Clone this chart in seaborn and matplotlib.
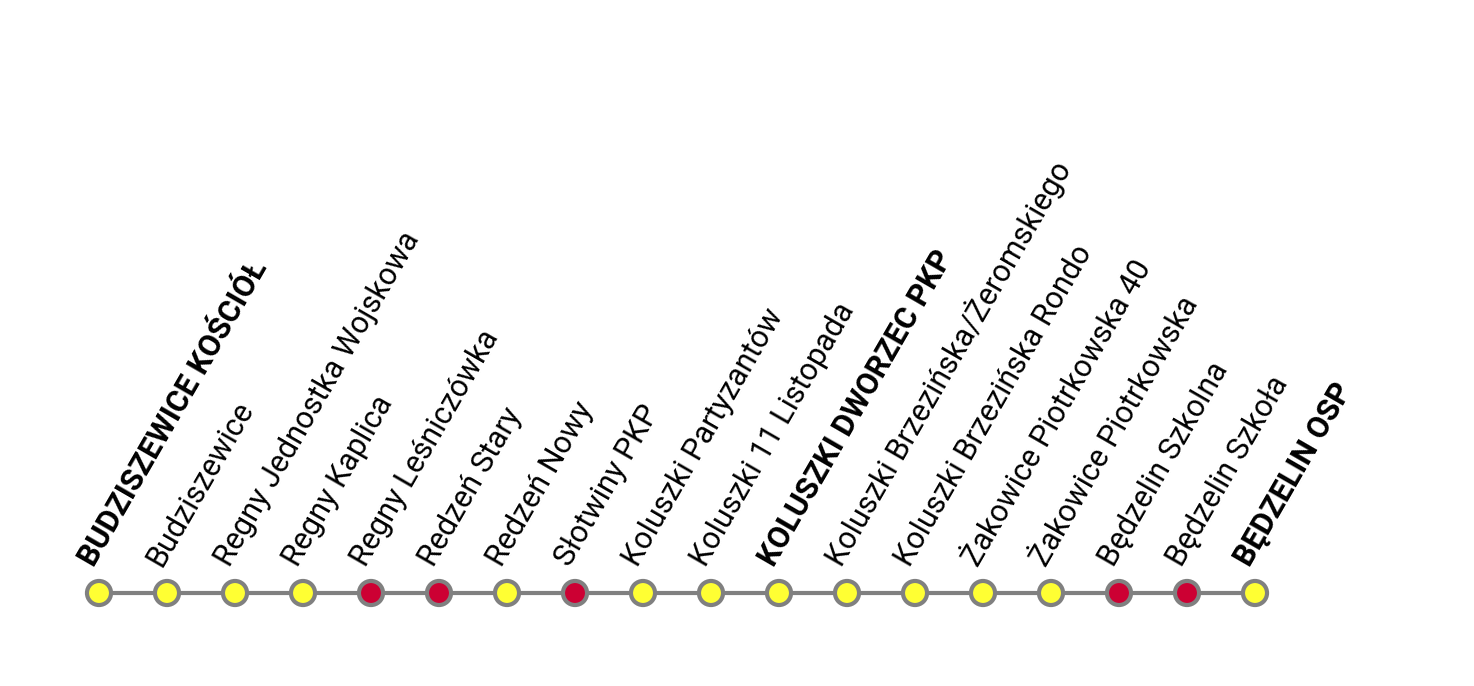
import matplotlib.pyplot as plt
import seaborn as sns
import pandas as pd

stops = ["BUDZISZEWICE KOŚCIÓŁ", "Budziszewice", "Regny Jednostka Wojskowa", "Regny Kaplica",
         "Regny Leśniczówka", "Redzeń Stary", "Redzeń Nowy", "Słotwiny PKP",
         "Koluszki Partyzantów", "Koluszki 11 Listopada", "KOLUSZKI DWORZEC PKP",
         "Koluszki Brzezińska/Żeromskiego", "Koluszki Brzezińska Rondo",
         "Żakowice Piotrkowska 40", "Żakowice Piotrkowska", "Będzelin Szkolna",
         "Będzelin Szkoła", "BĘDZELIN OSP"]
kind = ["y", "y", "y", "y", "r", "r", "y", "r", "y", "y", "y", "y", "y", "y", "y", "r", "r", "y"]
major = [0, 10, 17]

df = pd.DataFrame({"pos": range(len(stops)), "y": 0, "kind": kind})

sns.set_style("white")
plt.rcParams['font.family'] = ['Roboto', 'DejaVu Sans']
fig = plt.figure(figsize=(14.74, 6.86), dpi=100)
ax = fig.add_axes([0, 0, 1, 1])
ax.plot(df["pos"], df["y"], color="#808080", lw=3, zorder=1)
sns.scatterplot(data=df, x="pos", y="y", hue="kind", palette={"y": "#ffff33", "r": "#cc0033"},
                s=300, edgecolor="#808080", linewidth=3, legend=False, ax=ax, zorder=2)
for i, name in enumerate(stops):
    ax.annotate(name, (i, 0), xytext=(0, 16), textcoords="offset points",
                rotation=60, rotation_mode="anchor", ha="left", va="bottom",
                fontsize=22, fontweight="bold" if i in major else "normal", color="black")
ax.set_xlim(-99 / 68, (1474 - 99) / 68)
ax.set_ylim(-0.93, 5.93)
ax.axis("off")
fig.savefig("out.png", dpi=100)
